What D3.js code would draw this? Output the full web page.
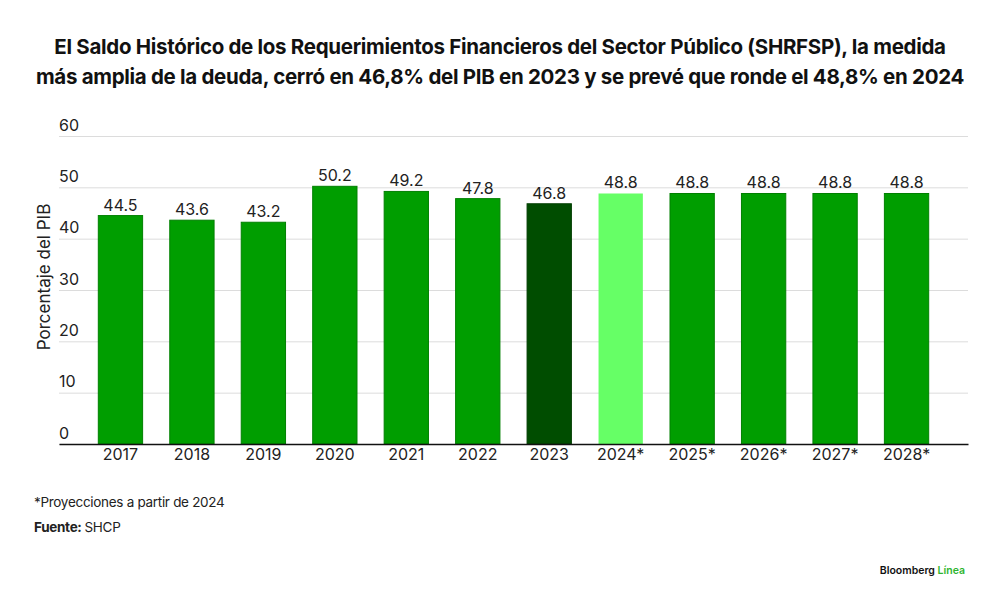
<!DOCTYPE html>
<html>
<head>
<meta charset="utf-8">
<script src="https://cdn.jsdelivr.net/npm/d3@7"></script>
<style>
  body { margin: 0; background: #fff; }
  svg { display: block; font-family: "Inter", "Roboto", sans-serif; }
</style>
</head>
<body>
<div id="chart"></div>
<script>
const years = ["2017", "2018", "2019", "2020", "2021", "2022", "2023", "2024*", "2025*", "2026*", "2027*", "2028*"];
const values = [44.5, 43.6, 43.2, 50.2, 49.2, 47.8, 46.8, 48.8, 48.8, 48.8, 48.8, 48.8];
const yTicks = [0, 10, 20, 30, 40, 50, 60];
const titleLines = [
  "El Saldo Histórico de los Requerimientos Financieros del Sector Público (SHRFSP), la medida",
  "más amplia de la deuda, cerró en 46,8% del PIB en 2023 y se prevé que ronde el 48,8% en 2024"
];

function barColor(year) {
  if (year === "2023") return "#004d00";
  if (year === "2024*") return "#66ff66";
  return "#009e00";
}

const width = 1000;
const height = 597;
const margin = { top: 136, right: 32, bottom: 153, left: 59 };
const innerWidth = width - margin.left - margin.right;
const innerHeight = height - margin.top - margin.bottom;

const svg = d3.select("#chart")
  .append("svg")
  .attr("width", width)
  .attr("height", height);

// title
svg.append("g")
  .selectAll("text")
  .data(titleLines)
  .join("text")
  .attr("x", width / 2)
  .attr("y", (d, i) => 54 + i * 30)
  .attr("text-anchor", "middle")
  .attr("font-size", 20.5)
  .attr("font-weight", 700)
  .attr("letter-spacing", "-0.3px")
  .attr("fill", "#111")
  .text((d) => d);

const g = svg.append("g")
  .attr("transform", `translate(${margin.left},${margin.top})`);

const x = d3.scaleBand()
  .domain(years)
  .range([0, innerWidth])
  .paddingInner(0.38)
  .paddingOuter(0.55);

const y = d3.scaleLinear()
  .domain([0, 60])
  .range([innerHeight, 0]);

// gridlines + tick labels
const grid = g.append("g")
  .call(d3.axisLeft(y).tickValues(yTicks).tickSize(-innerWidth).tickFormat(d3.format("d")));
grid.select(".domain").remove();
grid.selectAll(".tick line")
  .attr("stroke", "#dcdcdc")
  .attr("stroke-width", 1);
grid.selectAll(".tick text")
  .attr("x", 0)
  .attr("dy", -6)
  .attr("text-anchor", "start")
  .attr("font-size", 16)
  .attr("font-family", "Inter, Roboto, sans-serif")
  .attr("fill", "#222");

// bars
g.selectAll(".bar")
  .data(years.map((yr, i) => ({ year: yr, value: values[i] })))
  .join("rect")
  .attr("class", "bar")
  .attr("x", (d) => x(d.year))
  .attr("y", (d) => y(d.value))
  .attr("width", x.bandwidth())
  .attr("height", (d) => y(0) - y(d.value))
  .attr("fill", (d) => barColor(d.year))
  .attr("stroke", (d) => d.year === "2024*" ? "none" : d3.color(barColor(d.year)).darker(0.6))
  .attr("stroke-width", 1);

// value labels
g.selectAll(".val")
  .data(years.map((yr, i) => ({ year: yr, value: values[i] })))
  .join("text")
  .attr("class", "val")
  .attr("x", (d) => x(d.year) + x.bandwidth() / 2)
  .attr("y", (d) => y(d.value) - 5)
  .attr("text-anchor", "middle")
  .attr("font-size", 16)
  .attr("fill", "#222")
  .text((d) => d3.format(".1f")(d.value));

// x axis
const xAxis = g.append("g")
  .attr("transform", `translate(0,${innerHeight})`)
  .call(d3.axisBottom(x).tickSize(0));
xAxis.select(".domain")
  .attr("stroke", "#111")
  .attr("stroke-width", 1.5);
xAxis.selectAll(".tick text")
  .attr("dy", 13)
  .attr("font-size", 16)
  .attr("font-family", "Inter, Roboto, sans-serif")
  .attr("fill", "#222");

// y axis title
svg.append("text")
  .attr("transform", `translate(50,${margin.top + innerHeight / 2 - 13}) rotate(-90)`)
  .attr("text-anchor", "middle")
  .attr("font-size", 17)
  .attr("fill", "#222")
  .text("Porcentaje del PIB");

// footnotes
svg.append("text")
  .attr("x", 34)
  .attr("y", 507)
  .attr("font-size", 13.5)
  .attr("letter-spacing", "-0.3px")
  .attr("fill", "#222")
  .text("*Proyecciones a partir de 2024");

const src = svg.append("text")
  .attr("x", 34)
  .attr("y", 532)
  .attr("font-size", 13.5)
  .attr("letter-spacing", "-0.3px")
  .attr("fill", "#222");
src.append("tspan").attr("font-weight", 700).text("Fuente: ");
src.append("tspan").text("SHCP");

// brand
const brand = svg.append("text")
  .attr("x", 965)
  .attr("y", 574)
  .attr("text-anchor", "end")
  .attr("font-size", 10.5)
  .attr("font-weight", 600);
brand.append("tspan").attr("fill", "#111").text("Bloomberg ");
brand.append("tspan").attr("fill", "#2fb52f").text("Línea");
</script>
</body>
</html>
